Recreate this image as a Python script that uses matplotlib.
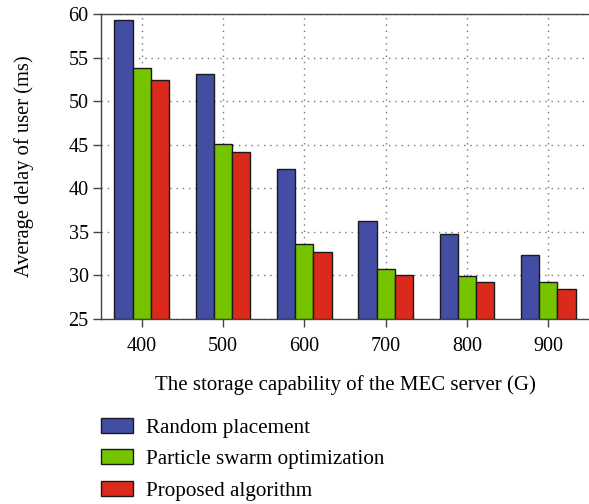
import matplotlib
matplotlib.use("Agg")
import matplotlib.pyplot as plt
import numpy as np

plt.rcParams['font.family'] = ['Liberation Serif', 'DejaVu Serif']

categories = ["400", "500", "600", "700", "800", "900"]
random_placement = [59.3, 53.1, 42.2, 36.2, 34.8, 32.4]
pso = [53.8, 45.1, 33.6, 30.8, 29.9, 29.3]
proposed = [52.4, 44.2, 32.7, 30.1, 29.2, 28.5]
series_names = ["Random placement", "Particle swarm optimization", "Proposed algorithm"]
colors = ["#434DA3", "#76C400", "#DB2A1C"]

fig = plt.figure(figsize=(5.89, 5.04), dpi=100)
ax = fig.add_axes([0.1715, 0.367, 0.8285, 0.605])

x = np.arange(len(categories))
w = 0.225
for i, (vals, name, c) in enumerate(zip([random_placement, pso, proposed], series_names, colors)):
    ax.bar(x + (i - 1) * w, np.array(vals) - 25, w, bottom=25, color=c,
           edgecolor="#1a1a1a", linewidth=1.0, label=name, zorder=3)

ax.set_xlim(-0.5, 5.5)
ax.set_ylim(25, 60)
ax.set_xticks(x)
ax.set_xticklabels(categories)
ax.set_yticks(np.arange(25, 61, 5))
ax.tick_params(axis='both', labelsize=14.5, direction='out', length=6, width=1, color="#444444")
ax.tick_params(axis='y', pad=3)
ax.tick_params(axis='x', pad=7)
ax.grid(True, linestyle=(0, (1, 3.5)), color="#777777", linewidth=1.0, zorder=0)
ax.set_axisbelow(True)
for s in ["left", "bottom", "top"]:
    ax.spines[s].set_color("#444444")
    ax.spines[s].set_linewidth(1.0)
ax.spines["right"].set_visible(False)

ax.set_ylabel("Average delay of user (ms)", fontsize=14.8)
ax.yaxis.set_label_coords(-0.138, 0.5)
fig.text(345 / 589, 1 - 385 / 504, "The storage capability of the MEC server (G)",
         fontsize=15, ha="center", va="center")

leg = fig.legend(loc="upper left", bbox_to_anchor=(101 / 589, 1 - 418 / 504), frameon=False,
                 fontsize=15.2, handlelength=1.5, handleheight=0.7, labelspacing=0.55,
                 handletextpad=0.65, borderpad=0, borderaxespad=0)

fig.savefig("out.png", dpi=100)
